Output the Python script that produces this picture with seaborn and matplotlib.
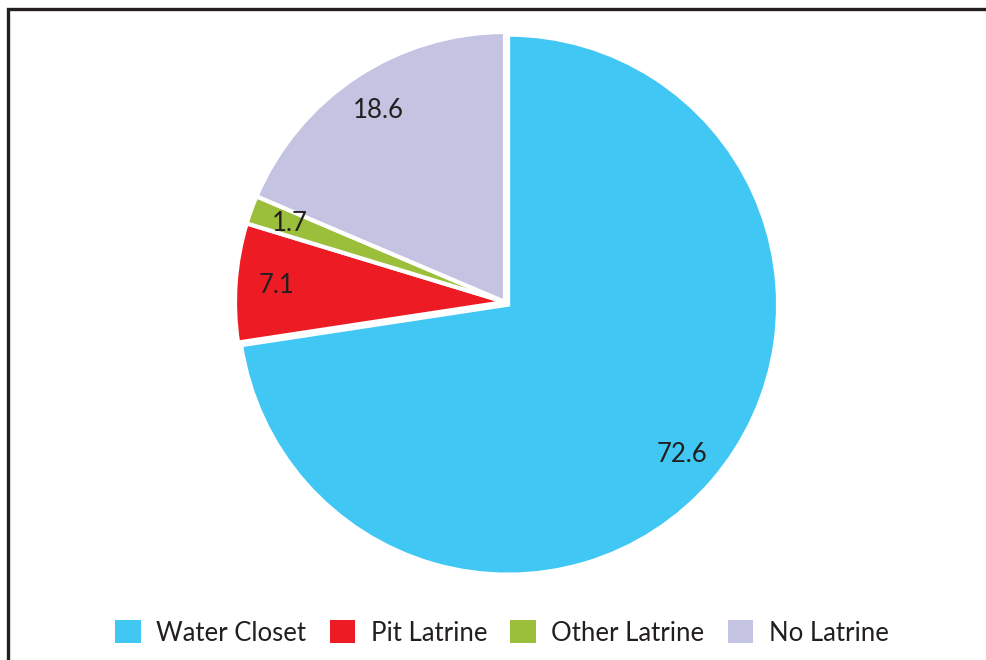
import matplotlib
matplotlib.use("Agg")
import matplotlib.pyplot as plt
from matplotlib.patches import Rectangle, Patch
import seaborn as sns

# toilet facility shares (%)
categories = ["Water Closet", "Pit Latrine", "Other Latrine", "No Latrine"]
values = [72.6, 7.1, 1.7, 18.6]
colors = ["#41C7F4", "#ED1C24", "#9BBF3B", "#C5C3E2"]

sns.set_theme(style="white")
plt.rcParams["font.family"] = ["Lato", "DejaVu Sans"]

W, H = 986, 660
fig = plt.figure(figsize=(W / 100, H / 100), dpi=100)

# pie centre ~ (505, 302) px, radius ~ 270 px
cx, cy, r = 505, 302, 270
ax = fig.add_axes([(cx - r) / W, (H - cy - r) / H, 2 * r / W, 2 * r / H])

ax.pie(values, colors=colors, startangle=90, counterclock=False,
       explode=[0.015, 0.0, 0.0, 0.0],
       autopct=lambda p: f"{p:.1f}", pctdistance=0.85,
       wedgeprops=dict(edgecolor="white", linewidth=3),
       textprops=dict(fontsize=18.5, color="#231F20"))
ax.set_xlim(-1.0, 1.0)
ax.set_ylim(-1.0, 1.0)
ax.set_aspect("equal")

# frame line on the left and top (rest is cut off)
fig.patches.append(Rectangle((8 / W, -0.1), 1.2, 1 - 9 / H + 0.1,
                             transform=fig.transFigure, fill=False,
                             edgecolor="#231F20", linewidth=2.4))

handles = [Patch(facecolor=c, edgecolor="none") for c in colors]
fig.legend(handles, categories, loc="center", bbox_to_anchor=(502 / W, 1 - 633 / H),
           ncol=4, frameon=False, fontsize=18.5, handlelength=1.0, handleheight=1.0,
           handletextpad=0.6, columnspacing=0.9, labelcolor="#231F20")

fig.savefig("out.png", dpi=100)
